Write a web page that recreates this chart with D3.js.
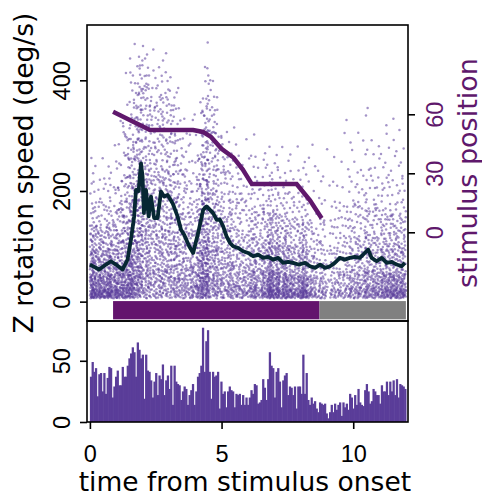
<!DOCTYPE html>
<html>
<head>
<meta charset="utf-8">
<script src="https://cdn.jsdelivr.net/npm/d3@7"></script>
<style>
  body { margin: 0; background: #fff; }
  svg { font-family: "DejaVu Sans", sans-serif; }
</style>
</head>
<body>
<div id="chart"></div>
<script>
// event counts per time bin (bottom panel), bins evenly cover 0..12 s
const histCounts = [
  37,49,41,44,21,39,40,25,40,23, 36,45,44,20,29,37,42,30,30,45,
  37,37,46,52,56,61,57,37,65,59, 52,55,19,55,42,41,34,20,33,40,
  22,38,35,47,22,34,38,27,46,14, 46,33,31,30,18,25,29,27,14,22,
  26,31,14,25,37,40,46,77,41,66, 75,41,19,41,37,38,41,11,33,23,
  25,12,25,29,26,25,12,23,22,23, 14,22,14,20,14,20,
  26,23,31,30,15,16,18,35,28,18, 35,57,46,44,20,41,44,33,12,34,
  38,40,22,29,28,22,29,11,29,29, 23,55,23,40,18,14,20,15,17,11,
  8,16,15,14,15,7,3,8,14,8, 15,10,14,16,5,16,12,15,10,23,
  20,11,22,14,27,16,14,13,26,31, 25,15,17,27,25,22,22,15,30,25,
  25,33,22,33,25,34,22,35,20,31, 30,29,27
];
const histStart = 0;
const histEnd = 12;

// spread of the speed cloud, every 0.5 s
const spreadTime = [0,0.5,1,1.5,2,2.5,3,3.5,4,4.5,5,5.5,6,6.5,7,7.5,8,8.5,9,9.5,10,10.5,11,11.5,12];
const spreadMed  = [50,48,50,75,150,130,140,90,65,120,95,70,62,58,55,50,48,45,47,55,58,60,55,50,50];
const spreadQ90  = [140,135,150,260,370,330,340,240,190,330,250,200,180,170,160,155,150,145,150,170,180,185,175,160,160];
const spreadMax  = [270,260,300,470,475,460,450,380,350,480,330,320,310,300,290,290,280,300,330,330,350,360,330,350,340];
const speedFloor = 6;

// running mean of Z rotation speed
const meanTime = [0,0.35,0.61,0.8,0.99,1.24,1.43,1.56,1.68,1.75,1.85,1.94,2.0,2.05,2.13,2.23,2.32,2.44,2.57,2.7,2.82,2.95,3.14,3.33,3.46,3.58,3.77,3.92,4.11,4.3,4.43,4.56,4.68,4.81,4.94,5.06,5.19,5.32,5.44,5.63,5.82,6.01,6.2,6.39,6.58,6.77,6.96,7.15,7.34,7.53,7.72,7.91,8.17,8.36,8.55,8.74,8.93,9.12,9.3,9.49,9.68,9.87,10.06,10.25,10.44,10.57,10.7,10.89,11.08,11.27,11.46,11.65,11.84,11.96];
const meanSpeed = [67,58,67,73,67,58,76,112,154,202,200,250,226,160,202,154,190,151,151,199,190,193,178,154,130,121,100,88,124,166,172,166,160,148,148,136,118,106,100,97,91,88,82,85,79,81,76,79,70,72,70,67,70,64,61,67,61,64,70,79,76,79,81,79,88,94,79,73,79,70,72,67,64,70];

// stimulus position (right axis)
const stimTime = [0.88,2.28,3.92,4.3,4.6,5.0,5.45,5.8,6.15,7.85,8.35,8.8];
const stimPos  = [61.3,52,52,51,48.5,42.5,38,32,24.5,24.5,16.4,7.1];

// stimulus epochs shown as a bar under the cloud
const epochName  = ['moving', 'still'];
const epochStart = [0.88, 8.72];
const epochEnd   = [8.72, 12];

const W = 482, H = 497;
const pLeft = 87, pRight = 408, pTop = 25, pMid = 321, pBottom = 422;
const purple = '#5f186c';

const svg = d3.select('#chart').append('svg')
    .attr('width', W).attr('height', H);

const x = d3.scaleLinear().domain([-0.11, 12.08]).range([pLeft, pRight]);
const y = d3.scaleLinear().domain([-35, 500]).range([pMid, pTop]);
const yStim = d3.scaleLinear().domain([-45.1, 105.4]).range([pMid, pTop]);
const yHist = d3.scaleLinear().domain([0, 82.5]).range([pBottom, pMid]);

// radical inverse, used to spread a bin's events evenly (Halton layout)
function radInv(n, b) {
    let r = 0, f = 1 / b;
    while (n > 0) { r += f * (n % b); n = Math.floor(n / b); f /= b; }
    return r;
}

// lay out each bin's events across its time span and the read speed spread
const medAt = d3.scaleLinear().domain(spreadTime).range(spreadMed);
const q90At = d3.scaleLinear().domain(spreadTime).range(spreadQ90);
const maxAt = d3.scaleLinear().domain(spreadTime).range(spreadMax);
const binW = (histEnd - histStart) / histCounts.length;
const total = d3.sum(histCounts);
const points = [];
let j = 0;
histCounts.forEach((c, i) => {
    for (let k = 0; k < c; k++, j++) {
        const idx = (j * 7919) % total + 1;
        const f = radInv(idx, 2);
        const u = radInv(idx, 3);
        const t = histStart + (i + f) * binW;
        const md = medAt(t), hi = q90At(t), mx = maxAt(t);
        const q = d3.scaleLinear()
            .domain([0, 0.25, 0.5, 0.75, 0.9, 0.96, 0.99, 1])
            .range([speedFloor, 0.45 * md, md, (md + hi) / 2, hi,
                    hi + 0.35 * (mx - hi), hi + 0.7 * (mx - hi), mx]);
        points.push({ t: t, v: q(u) });
    }
});

svg.append('g')
    .selectAll('circle')
    .data(points)
    .enter().append('circle')
    .attr('cx', (d) => x(d.t))
    .attr('cy', (d) => y(d.v))
    .attr('r', 1.25)
    .attr('fill', '#5a3d9a')
    .attr('fill-opacity', 0.55);

// epoch bar
svg.append('g')
    .selectAll('rect')
    .data(epochName)
    .enter().append('rect')
    .attr('x', (d, i) => x(epochStart[i]))
    .attr('width', (d, i) => x(epochEnd[i]) - x(epochStart[i]))
    .attr('y', y(1))
    .attr('height', y(-32) - y(1))
    .attr('fill', (d) => d === 'moving' ? '#63146d' : '#808080');

// mean line
const meanLine = d3.line()
    .x((d) => x(d[0]))
    .y((d) => y(d[1]));
svg.append('path')
    .datum(meanTime.map((t, i) => [t, meanSpeed[i]]))
    .attr('fill', 'none')
    .attr('stroke', '#072733')
    .attr('stroke-width', 3.8)
    .attr('stroke-linejoin', 'round')
    .attr('d', meanLine);

// stimulus position line
const stimLine = d3.line()
    .x((d) => x(d[0]))
    .y((d) => yStim(d[1]));
svg.append('path')
    .datum(stimTime.map((t, i) => [t, stimPos[i]]))
    .attr('fill', 'none')
    .attr('stroke', purple)
    .attr('stroke-width', 4.5)
    .attr('d', stimLine);

// histogram
svg.append('g')
    .selectAll('rect')
    .data(histCounts)
    .enter().append('rect')
    .attr('x', (d, i) => x(histStart + i * binW))
    .attr('width', x(binW) - x(0) + 0.6)
    .attr('y', (d) => yHist(d))
    .attr('height', (d) => pBottom - yHist(d))
    .attr('fill', '#5a3d99');

// frames
[[pTop, pMid], [pMid, pBottom]].forEach(([a, b]) => {
    svg.append('rect')
        .attr('x', pLeft).attr('y', a)
        .attr('width', pRight - pLeft).attr('height', b - a)
        .attr('fill', 'none')
        .attr('stroke', '#000')
        .attr('stroke-width', 1.6);
});

function styleAxis(g) {
    g.select('.domain').remove();
    g.selectAll('.tick line').attr('stroke', '#000').attr('stroke-width', 1.6);
    g.selectAll('.tick text').style('font-size', '23.5px').attr('fill', '#000');
}

function rotateLabels(g, off, color) {
    g.selectAll('.tick text')
        .attr('x', null).attr('dy', null)
        .attr('text-anchor', 'middle')
        .attr('transform', `translate(${off},0) rotate(-90)`)
        .attr('fill', color);
}

svg.append('g')
    .attr('transform', `translate(${pLeft},0)`)
    .call(d3.axisLeft(y).tickValues([0, 200, 400]).tickSize(7))
    .call(styleAxis)
    .call((g) => rotateLabels(g, -17, '#000'));

svg.append('g')
    .attr('transform', `translate(${pRight},0)`)
    .call(d3.axisRight(yStim).tickValues([0, 30, 60]).tickSize(7))
    .call(styleAxis)
    .call((g) => rotateLabels(g, 35, purple));

svg.append('g')
    .attr('transform', `translate(${pLeft},0)`)
    .call(d3.axisLeft(yHist).tickValues([0, 50]).tickSize(7))
    .call(styleAxis)
    .call((g) => rotateLabels(g, -17, '#000'));

svg.append('g')
    .attr('transform', `translate(0,${pBottom})`)
    .call(d3.axisBottom(x).tickValues([0, 5, 10]).tickSize(7))
    .call(styleAxis)
    .call((g) => g.selectAll('.tick text').attr('y', 40).attr('dy', null));

// axis titles
svg.append('text')
    .attr('transform', `translate(33,${(pTop + pMid) / 2}) rotate(-90)`)
    .attr('text-anchor', 'middle')
    .style('font-size', '26.5px')
    .text('Z rotation speed (deg/s)');

svg.append('text')
    .attr('transform', `translate(477,${(pTop + pMid) / 2}) rotate(-90)`)
    .attr('text-anchor', 'middle')
    .style('font-size', '27px')
    .attr('fill', purple)
    .text('stimulus position');

svg.append('text')
    .attr('x', (x(0) + x(12)) / 2 - 3)
    .attr('y', 491)
    .attr('text-anchor', 'middle')
    .style('font-size', '26.5px')
    .text('time from stimulus onset');
</script>
</body>
</html>
